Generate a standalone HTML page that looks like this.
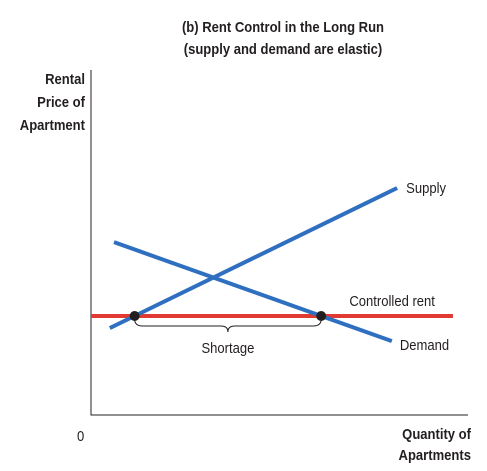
<!DOCTYPE html>
<html><head><meta charset="utf-8"><style>
html,body{margin:0;padding:0;background:#fff}
svg{display:block}
text{font-family:"Liberation Sans Narrow","Liberation Sans",sans-serif;fill:#231f20}
</style></head><body>
<svg width="487" height="471" viewBox="0 0 487 471">
<g id="chart"></g>
</svg>
<script>
const lineNames = ['supply','demand'];
const supplyX = [5.0, 81.2];
const supplyY = [25.2, 65.8];
const demandX = [6.1, 79.8];
const demandY = [50.1, 21.4];
const rentLevel = [28.7];
const rentRange = [0, 96];

const NS='http://www.w3.org/2000/svg';
const g=document.getElementById('chart');
const X0=91,X1=468,Y0=415,Y1=70;
const sx=v=>X0+v*(X1-X0)/100;
const sy=v=>Y0-v*(Y0-Y1)/100;
function mk(tag,attrs,parent){const e=document.createElementNS(NS,tag);for(const k in attrs)e.setAttribute(k,attrs[k]);(parent||g).appendChild(e);return e;}
function txt(x,y,s,opts){const e=mk('text',Object.assign({x:0,y:0,'font-size':15,transform:`translate(${x},${y}) scale(0.87,1)`},opts||{}));e.textContent=s;return e;}

let t=txt(283,32,'(b) Rent Control in the Long Run',{'text-anchor':'middle','font-weight':'bold'});


t=txt(283,54,'(supply and demand are elastic)',{'text-anchor':'middle','font-weight':'bold'});


['Rental','Price of','Apartment'].forEach((s,i)=>{const e=txt(85,84+i*23,s,{'text-anchor':'end','font-weight':'bold'});

});
['Quantity of','Apartments'].forEach((s,i)=>{const e=txt(471,439+i*21,s,{'text-anchor':'end','font-weight':'bold'});

});
t=txt(77,441,'0',{});



let ax=mk('path',{d:`M${X0} ${Y1}V${Y0}H${X1}`,stroke:'#231f20','stroke-width':1,fill:'none'});



const ry=rentLevel[0];
let rl=mk('line',{x1:sx(rentRange[0]),x2:sx(rentRange[1]),y1:sy(ry),y2:sy(ry),stroke:'#e03a32','stroke-width':4});



const lines={supply:[supplyX,supplyY],demand:[demandX,demandY]};
lineNames.forEach(n=>{const [xs,ys]=lines[n];
const l=mk('line',{x1:sx(xs[0]),y1:sy(ys[0]),x2:sx(xs[1]),y2:sy(ys[1]),stroke:'#2f6fc0','stroke-width':4,'stroke-linecap':'butt'});

});

function xAt(xs,ys,y){return xs[0]+(y-ys[0])*(xs[1]-xs[0])/(ys[1]-ys[0]);}
const qs=xAt(supplyX,supplyY,ry), qd=xAt(demandX,demandY,ry);
const a=sx(Math.min(qs,qd)), b=sx(Math.max(qs,qd)), yy=sy(ry), m=(a+b)/2;
let br=mk('path',{d:`M${a} ${yy+3}Q${a} ${yy+10} ${a+8} ${yy+10}H${m-7}Q${m} ${yy+10} ${m} ${yy+16}Q${m} ${yy+10} ${m+7} ${yy+10}H${b-8}Q${b} ${yy+10} ${b} ${yy+3}`,fill:'none',stroke:'#231f20','stroke-width':1});


t=txt(m,yy+37,'Shortage',{'text-anchor':'middle'});


[qs,qd].forEach(q=>{const c=mk('circle',{cx:sx(q),cy:yy,r:5,fill:'#231f20'});

});

t=txt(sx(supplyX[1])+9,sy(supplyY[1])+5,'Supply',{});


t=txt(sx(demandX[1])+8,sy(demandY[1])+9,'Demand',{});


t=txt(sx(rentRange[1])-18,yy-10,'Controlled rent',{'text-anchor':'end'});


</script>
</body></html>
